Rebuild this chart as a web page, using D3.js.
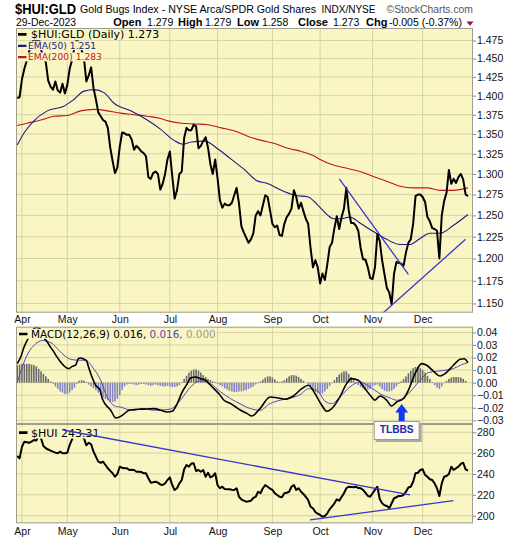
<!DOCTYPE html>
<html><head><meta charset="utf-8">
<script src="https://cdn.jsdelivr.net/npm/d3@7"></script>
<style>body{margin:0;background:#fff}svg{display:block}</style>
</head><body>
<svg id="c" width="520" height="540"></svg>
<script>
// ---------------- DATA ----------------
// x = trading-day index (0 = 30-Mar-2023 ... 189 = 29-Dec-2023)
const monthLabels = ["Apr","May","Jun","Jul","Aug","Sep","Oct","Nov","Dec"];
const monthStartDay = [2,21,43,64,84,107,127,149,170];

const priceTicks = [1.150,1.175,1.200,1.225,1.250,1.275,1.300,1.325,1.350,1.375,1.400,1.425,1.450,1.475];
const macdTicks = [-0.03,-0.02,-0.01,0,0.01,0.02,0.03,0.04];
const huiTicks = [200,220,240,260,280];

// $HUI:GLD daily close
const ratioClose = [
1.397,1.398,1.422,1.436,1.447,1.460,1.470,1.478,1.472,1.480,
1.462,1.452,1.445,1.420,1.412,1.408,1.419,1.407,1.404,1.416,
1.403,1.414,1.436,1.448,1.465,1.478,1.470,1.462,1.450,1.419,
1.427,1.438,1.410,1.395,1.378,1.373,1.368,1.366,1.358,1.333,
1.316,1.301,1.308,1.334,1.352,1.351,1.349,1.349,1.343,1.330,
1.335,1.332,1.328,1.326,1.322,1.296,1.294,1.301,1.303,1.300,
1.281,1.288,1.300,1.318,1.328,1.298,1.270,1.280,1.300,1.303,
1.345,1.358,1.355,1.355,1.362,1.360,1.332,1.335,1.341,1.346,
1.333,1.312,1.300,1.318,1.295,1.268,1.259,1.264,1.262,1.262,
1.265,1.274,1.283,1.264,1.237,1.230,1.224,1.218,1.222,1.229,
1.250,1.255,1.250,1.262,1.274,1.272,1.256,1.240,1.236,1.238,
1.227,1.226,1.240,1.248,1.252,1.258,1.280,1.272,1.258,1.265,
1.255,1.246,1.240,1.212,1.190,1.198,1.190,1.172,1.183,1.176,
1.193,1.213,1.218,1.235,1.249,1.234,1.248,1.258,1.283,1.256,
1.241,1.241,1.238,1.232,1.212,1.199,1.199,1.190,1.178,1.177,
1.190,1.228,1.220,1.198,1.182,1.167,1.162,1.149,1.183,1.196,
1.195,1.194,1.192,1.207,1.218,1.222,1.240,1.273,1.275,1.275,
1.272,1.266,1.248,1.243,1.235,1.234,1.232,1.200,1.250,1.267,
1.277,1.305,1.288,1.294,1.289,1.296,1.300,1.293,1.275,1.273];

const ema50Day = [0,3,7,12.6,19.6,23.8,28,32.2,36.4,40.6,47.6,54.5,60.2,65.7,69.5,73,78.6,84.2,89.8,95.4,100.3,105.2,110.7,116.4,122,126.1,130.3,132.5,135.3,139.5,143.7,149.3,154.9,160.5,164.7,168.9,173.1,177.3,182.8,189];
const ema50 = [1.336,1.352,1.367,1.380,1.386,1.395,1.406,1.408,1.404,1.390,1.380,1.368,1.356,1.342,1.337,1.340,1.341,1.331,1.318,1.305,1.292,1.288,1.280,1.274,1.272,1.262,1.250,1.246,1.246,1.248,1.241,1.231,1.222,1.216,1.216,1.223,1.229,1.229,1.238,1.251];

const ema200Day = [0,4.2,9.9,15.4,21,26.6,32.2,37.8,43.4,49,54.5,60.2,63.2,68.8,74.4,80,85.6,91.2,96.8,102.3,108,113.5,119.1,124.7,127,132.5,138.2,143.7,149.3,154.9,160.5,166.1,171.7,177.3,182.9,189];
const ema200 = [1.361,1.364,1.368,1.373,1.374,1.380,1.382,1.380,1.377,1.375,1.373,1.370,1.367,1.364,1.363,1.362,1.358,1.354,1.347,1.342,1.338,1.332,1.328,1.322,1.318,1.311,1.307,1.303,1.297,1.291,1.285,1.283,1.283,1.280,1.280,1.283];

const macdDay = [0,1.5,2.9,4.9,6.2,8,9.5,11.7,12.6,13.8,15.4,16.6,18.2,20,21.7,22.9,24.5,25.7,26.6,28,29.1,30.1,32.9,34.7,35.7,39.2,41.4,44.1,46.9,50.4,54.5,57.4,60.2,62.9,65,67.1,69.2,71.3,72.7,74.8,76.9,79,80.4,82.5,84.6,86.7,89.5,91.6,93.7,96.5,98.3,101.8,106,109.5,112.3,115.8,119.3,122.1,124.9,127.7,129.8,132.5,135.3,138.1,140.2,143,145.8,148.6,150,152.1,154.9,157,159.1,161.9,164,166.8,169.6,171.7,174.5,177.3,179.4,182.9,185.7,187.4,189];
const macdLine = [0.0153,0.0205,0.0285,0.0364,0.041,0.044,0.043,0.0346,0.0325,0.0287,0.0245,0.0207,0.0165,0.0128,0.0112,0.0128,0.0139,0.0193,0.0197,0.0187,0.0173,0.0112,-0.0021,-0.0058,-0.0128,-0.022,-0.0282,-0.026,-0.022,-0.0212,-0.021,-0.0207,-0.022,-0.0234,-0.0228,-0.0167,-0.0074,-0.0008,0.0037,0.0045,0.0032,0.0019,-0.0008,-0.0048,-0.0088,-0.014,-0.0167,-0.0194,-0.022,-0.0247,-0.0266,-0.0207,-0.0114,-0.0122,-0.0132,-0.0106,-0.0048,-0.0021,-0.0088,-0.018,-0.0228,-0.0194,-0.0114,-0.0008,0.0032,0.0019,-0.0048,-0.0114,-0.014,-0.0106,-0.014,-0.0186,-0.0154,-0.0128,-0.0061,0.0072,0.0152,0.0139,0.0091,0.0053,0.0072,0.0139,0.0187,0.0191,0.016];

const signalDay = [0,4.1,8.3,10.9,12.6,14.6,17.5,20,22.6,25.9,28.7,31.5,35,37.5,41.7,43.4,45.9,49,52.9,57.4,60.7,64.3,68.5,72.7,76.9,81.1,85.3,89.5,93.6,97.8,101.8,106,110.2,114.4,118.6,122.1,125.6,129.1,131.9,135.3,139.5,143.7,147.9,152.1,156.3,159.1,161.9,164.7,168.9,172.4,175.9,179.4,182.9,186.4,189];
const signalLine = [0.000,0.0217,0.0317,0.0337,0.033,0.0313,0.0258,0.0213,0.0185,0.0179,0.0179,0.0125,0.0019,-0.0106,-0.0191,-0.0194,-0.0212,-0.022,-0.0206,-0.022,-0.0218,-0.021,-0.0138,-0.0034,0.0014,-0.0008,-0.0074,-0.0128,-0.017,-0.0207,-0.022,-0.0167,-0.014,-0.0122,-0.0096,-0.0048,-0.0061,-0.0148,-0.0167,-0.0114,-0.0034,0.0006,-0.0034,-0.0088,-0.0122,-0.014,-0.0122,-0.0074,0.0019,0.008,0.0091,0.0099,0.0112,0.0144,0.016];

const macdHist = [
0.014,0.0145,0.015,0.015,0.015,0.015,0.0145,0.014,0.013,
0.011,0.009,0.007,0.005,0.003,0.001,
-0.001,-0.003,-0.005,-0.007,-0.008,-0.009,-0.009,-0.008,-0.006,-0.004,-0.001,
0.0015,0.002,0.0015,0.0005,
-0.0015,-0.003,-0.0045,-0.006,-0.008,-0.010,-0.012,-0.013,-0.014,-0.015,-0.0155,-0.015,-0.013,-0.010,-0.006,-0.003,
-0.0015,-0.001,-0.001,-0.0015,-0.002,-0.0015,-0.001,-0.001,-0.0015,-0.002,-0.0025,-0.002,-0.0015,-0.002,-0.0025,-0.003,-0.003,-0.0025,-0.003,-0.0035,-0.0035,-0.003,-0.002,
0.0005,0.003,0.0055,0.008,0.0095,0.0105,0.0105,0.0095,0.008,0.006,0.0045,0.003,0.002,0.001,0.0005,-0.001,
-0.002,-0.003,-0.0045,-0.0055,-0.0065,-0.007,-0.0075,-0.0075,-0.007,-0.007,-0.0065,-0.006,-0.005,-0.004,-0.003,-0.0015,-0.0005,
0.001,0.0025,0.004,0.005,0.005,0.004,0.0025,
0.001,0.0005,0.001,
0.002,0.0035,0.005,0.006,0.006,0.0055,0.0045,0.003,0.0015,0,
-0.0015,-0.0035,-0.0055,-0.0075,-0.0085,-0.009,-0.0085,-0.007,-0.005,-0.0025,-0.0005,
0.002,0.0045,0.0065,0.008,0.009,0.009,0.007,0.0045,0.002,
-0.0005,-0.002,-0.0035,-0.0045,-0.0055,-0.0055,-0.005,-0.003,-0.002,-0.0015,-0.003,-0.005,-0.0065,-0.007,-0.007,-0.0065,-0.005,-0.003,-0.001,
0.001,0.003,0.005,0.0075,0.0095,0.0115,0.0125,0.0125,0.0115,0.010,0.008,0.0055,0.003,0.0005,
-0.002,-0.004,-0.005,-0.003,-0.0005,
0.0015,0.003,0.004,0.0045,0.0045,0.0045,0.004,0.003,0.0015,0];

// $HUI daily close
const huiClose = [
257.3,255,266,271,270.5,270,271,272.6,272,277.4,
274.2,266.9,264.7,263.5,262.4,261.4,260.5,259.9,261.4,259.9,
260,260.4,267.8,273.3,278,281,279,276,274.2,267.5,
270,268.5,261.4,256.6,251.8,250.8,251.8,248.6,245.5,243,
240.7,237.4,240,247,246,245.5,245.5,243.8,244,243.8,
242.2,242.2,242,240.7,240.7,235.9,231.7,232,232.6,231.7,
230,229.4,231,234.2,236.8,229.4,224.6,226.3,231,234.2,
244.5,248.6,247,250,250.3,242.9,243.8,242.2,243.8,237.4,
241.2,236.8,238,240.7,229.4,226.3,227.8,225.5,225.3,225.3,
224.8,224.7,226.3,218.2,215.7,214.5,213.4,213.8,214.4,217,
218.2,223,221.5,226.3,229.4,227.8,226,224.7,221.5,219.9,
218.2,217.7,221.5,222,223,227.8,229.4,224.7,226.3,223,
220.8,218.2,215,208.6,207.1,203.5,202,200.7,199,199.7,
202.3,206.1,209,211.9,215.7,214.4,218,221.5,226.3,227.8,
227.5,227.2,227.8,226.5,226.3,224.7,222,219,218.2,221.5,
224.7,227.8,216,211.9,210,209.3,207.1,211.9,216.7,217.7,
218.9,219,219.9,223,227,227.8,232.6,240.7,241.2,243.8,
244.5,239.1,237.4,235,234.2,231,226.3,218.9,231,237.4,
238.1,240,247,243.8,245.5,247,249.6,250.8,244.5,243.3];

// drawn trend lines: [day, value]
const ratioTrendDown = [[135.05,1.294],[164.0,1.182]];
const ratioTrendUp = [[153.25,1.1394],[188.0,1.222]];
const huiTrendDown = [[19.3,282.2],[164.7,219.9]];
const huiTrendUp = [[122.8,195.9],[182.9,214.4]];
const signalMarkDay = 161.2; // TLBBS arrow

// ---------------- CHART ----------------
const svg = d3.select("#c");
const SANS = "'Liberation Sans', Arial, sans-serif";
const LEG = "'DejaVu Sans', Verdana, sans-serif";
const BG = "#F9F6C4", GRID = "#D6D3A6", BORDER = "#9E9E90";

const L = 16, R = 473;
const x = d3.scaleLinear().domain([-0.5, 191.1]).range([L, R]);

const P1 = {top: 28, bottom: 312.7};
const P2 = {top: 326.7, bottom: 424};
const P3 = {top: 424, bottom: 523.3};

const y1 = d3.scaleLog().domain([1.140, 1.4926]).range([P1.bottom, P1.top]);
const y2 = d3.scaleLinear().domain([-0.03295, 0.0446]).range([P2.bottom, P2.top]);
const y3 = d3.scaleLinear().domain([192.7, 287.96]).range([P3.bottom, P3.top]);

function panel(P, y, ticks, fmt, id) {
  svg.append("rect").attr("x", L).attr("y", P.top).attr("width", R - L).attr("height", P.bottom - P.top)
    .attr("fill", BG);
  svg.append("clipPath").attr("id", id).append("rect")
    .attr("x", L).attr("y", P.top).attr("width", R - L).attr("height", P.bottom - P.top);
  const g = svg.append("g");
  g.selectAll(".hg").data(ticks).join("line")
    .attr("x1", L).attr("x2", R).attr("y1", d => y(d)).attr("y2", d => y(d))
    .attr("stroke", GRID).attr("stroke-width", 1);
  g.selectAll(".vg").data(monthStartDay).join("line")
    .attr("x1", d => x(d)).attr("x2", d => x(d)).attr("y1", P.top).attr("y2", P.bottom)
    .attr("stroke", GRID).attr("stroke-width", 1);
  const ax = svg.append("g").attr("transform", `translate(${R},0)`)
    .call(d3.axisRight(y).tickValues(ticks).tickFormat(fmt).tickSize(3).tickPadding(1));
  ax.select(".domain").remove();
  ax.selectAll("line").attr("stroke", "#888");
  ax.selectAll("text").attr("font-family", SANS).attr("font-size", "10.5px").attr("fill", "#111");
  return svg.append("g").attr("clip-path", `url(#${id})`);
}
function frame(P) {
  svg.append("rect").attr("x", L + 0.5).attr("y", P.top + 0.5).attr("width", R - L - 1).attr("height", P.bottom - P.top - 1)
    .attr("fill", "none").attr("stroke", BORDER).attr("stroke-width", 1);
}
function monthAxis(yPos, pad) {
  const a = svg.append("g").attr("transform", `translate(0,${yPos})`)
    .call(d3.axisBottom(x).tickValues(monthStartDay).tickFormat((d, i) => monthLabels[i]).tickSize(0).tickPadding(pad));
  a.select(".domain").remove();
  a.selectAll("text").attr("font-family", SANS).attr("font-size", "10.5px").attr("fill", "#111");
}
function legendRow(g, xDash, xText, yBase, parts, size, dashColor, dashW, family) {
  const t = g.append("text").attr("x", xText).attr("y", yBase)
    .attr("font-family", family || LEG).attr("font-size", size + "px");
  parts.forEach(p => t.append("tspan").attr("fill", p[1]).text(p[0]));
  const bb = t.node().getBBox();
  g.insert("rect", "text").attr("x", xDash - 1).attr("y", bb.y + 1).attr("width", bb.x + bb.width - xDash + 2)
    .attr("height", bb.height - 2).attr("fill", BG);
  g.append("line").attr("x1", xDash).attr("x2", xDash + 8.5).attr("y1", yBase - size * 0.36).attr("y2", yBase - size * 0.36)
    .attr("stroke", dashColor).attr("stroke-width", dashW);
}

// ---- Panel 1: ratio ----
const g1 = panel(P1, y1, priceTicks, d3.format(".3f"), "c1");
const smooth = d3.curveMonotoneX;
g1.append("path").datum(ema200Day.map((d, i) => [d, ema200[i]]))
  .attr("d", d3.line().x(d => x(d[0])).y(d => y1(d[1])).curve(smooth))
  .attr("fill", "none").attr("stroke", "#C0141E").attr("stroke-width", 1.1);
g1.append("path").datum(ema50Day.map((d, i) => [d, ema50[i]]))
  .attr("d", d3.line().x(d => x(d[0])).y(d => y1(d[1])).curve(smooth))
  .attr("fill", "none").attr("stroke", "#1B1B82").attr("stroke-width", 1.1);
g1.append("path").datum(ratioClose)
  .attr("d", d3.line().x((d, i) => x(i)).y(d => y1(d)))
  .attr("fill", "none").attr("stroke", "#000").attr("stroke-width", 2).attr("stroke-linejoin", "round");
const leg1 = g1.append("g");
legendRow(leg1, 18, 31, 38.3, [["$HUI:GLD (Daily) 1.273", "#000"]], 11, "#000", 2.6);
legendRow(leg1, 18, 28, 49.2, [["EMA(50) 1.251", "#1B1B82"]], 9.2, "#1B1B82", 2.2);
legendRow(leg1, 18, 28, 60.4, [["EMA(200) 1.283", "#C0141E"]], 9.2, "#C0141E", 2.2);
const tl = d3.line().x(d => x(d[0]));
g1.append("path").datum(ratioTrendDown).attr("d", tl.y(d => y1(d[1])))
  .attr("stroke", "#3838C8").attr("stroke-width", 1.3).attr("fill", "none");
g1.append("path").datum(ratioTrendUp).attr("d", tl.y(d => y1(d[1])))
  .attr("stroke", "#3838C8").attr("stroke-width", 1.3).attr("fill", "none");
frame(P1);
monthAxis(P1.bottom, 3);

// ---- Panel 2: MACD ----
const g2 = panel(P2, y2, macdTicks, d3.format(".2f"), "c2");
g2.selectAll(".hb").data(macdHist).join("rect")
  .attr("x", (d, i) => x(i) - 0.8).attr("width", 1.6)
  .attr("y", d => Math.min(y2(d), y2(0))).attr("height", d => Math.abs(y2(d) - y2(0)))
  .attr("fill", d => d >= 0 ? "#6A6A6A" : "#8484C4");
g2.append("path").datum(signalDay.map((d, i) => [d, signalLine[i]]))
  .attr("d", d3.line().x(d => x(d[0])).y(d => y2(d[1])).curve(smooth))
  .attr("fill", "none").attr("stroke", "#5A44B8").attr("stroke-width", 1);
g2.append("path").datum(macdDay.map((d, i) => [d, macdLine[i]]))
  .attr("d", d3.line().x(d => x(d[0])).y(d => y2(d[1])).curve(smooth))
  .attr("fill", "none").attr("stroke", "#000").attr("stroke-width", 1.6);
legendRow(g2.append("g"), 19, 31, 337.8,
  [["MACD(12,26,9) 0.016, ", "#000"], ["0.016, ", "#5A44B8"], ["0.000", "#999"]], 10.4, "#000", 2.6);
// TLBBS arrow
const ax0 = x(signalMarkDay);
g2.append("path").attr("d", `M${ax0},404 L${ax0 + 6.5},412.5 L${ax0 + 3},412.5 L${ax0 + 3},424 L${ax0 - 3},424 L${ax0 - 3},412.5 L${ax0 - 6.5},412.5 Z`)
  .attr("fill", "#1238F0");
frame(P2);

// ---- Panel 3: $HUI ----
const g3 = panel(P3, y3, huiTicks, d3.format("d"), "c3");
g3.append("path").datum(huiClose)
  .attr("d", d3.line().x((d, i) => x(i)).y(d => y3(d)))
  .attr("fill", "none").attr("stroke", "#000").attr("stroke-width", 2).attr("stroke-linejoin", "round");
legendRow(g3.append("g"), 19, 31, 436.6, [["$HUI 243.31", "#000"]], 11, "#000", 2.6);
g3.append("path").datum(huiTrendDown).attr("d", tl.y(d => y3(d[1])))
  .attr("stroke", "#3838C8").attr("stroke-width", 1.3).attr("fill", "none");
g3.append("path").datum(huiTrendUp).attr("d", tl.y(d => y3(d[1])))
  .attr("stroke", "#3838C8").attr("stroke-width", 1.3).attr("fill", "none");
frame(P3);
monthAxis(P3.bottom, 4.5);

// TLBBS box
const bx = x(signalMarkDay) - 28;
svg.append("rect").attr("x", bx + 2).attr("y", 423).attr("width", 46).attr("height", 19).attr("fill", "#A8A8A8");
svg.append("rect").attr("x", bx + 0.5).attr("y", 421.5).attr("width", 45).attr("height", 18)
  .attr("fill", "#FDFDF2").attr("stroke", "#9A9A9A").attr("stroke-width", 1);
svg.append("text").attr("x", bx + 23).attr("y", 433.2).attr("text-anchor", "middle")
  .attr("font-family", SANS).attr("font-weight", "bold").attr("font-size", "10.2px").attr("fill", "#1E28B4").text("TLBBS");

// ---- Header ----
const hd = svg.append("g").attr("font-family", SANS);
hd.append("text").attr("x", 15).attr("y", 13.5).attr("font-weight", "bold").attr("font-size", "14.5px")
  .attr("textLength", 61).attr("lengthAdjust", "spacingAndGlyphs").text("$HUI:GLD");
hd.append("text").attr("x", 80).attr("y", 13).attr("font-size", "11px")
  .attr("textLength", 236).attr("lengthAdjust", "spacingAndGlyphs").text("Gold Bugs Index - NYSE Arca/SPDR Gold Shares");
hd.append("text").attr("x", 321.5).attr("y", 13).attr("font-size", "10px").text("INDX/NYSE");
hd.append("text").attr("x", 386.5).attr("y", 13).attr("font-size", "10px").attr("fill", "#555")
  .attr("textLength", 86.5).attr("lengthAdjust", "spacingAndGlyphs").text("©StockCharts.com");
hd.append("text").attr("x", 16).attr("y", 26).attr("font-size", "10px")
  .attr("textLength", 60).attr("lengthAdjust", "spacingAndGlyphs").text("29-Dec-2023");
const quote = [
  ["Open", 113.3, true], ["1.279", 147, false], ["High", 178, true], ["1.279", 205, false],
  ["Low", 237, true], ["1.258", 262, false], ["Close", 298, true], ["1.273", 333, false],
  ["Chg", 366, true], ["-0.005 (-0.37%)", 389, false]];
quote.forEach(q => hd.append("text").attr("x", q[1]).attr("y", 26)
  .attr("font-size", q[2] ? "11px" : "10.5px").attr("font-weight", q[2] ? "bold" : "normal").text(q[0]));
hd.append("path").attr("d", "M466.5,21.5 L473.5,21.5 L470,25.8 Z").attr("fill", "#8B1538");
</script>
</body></html>
